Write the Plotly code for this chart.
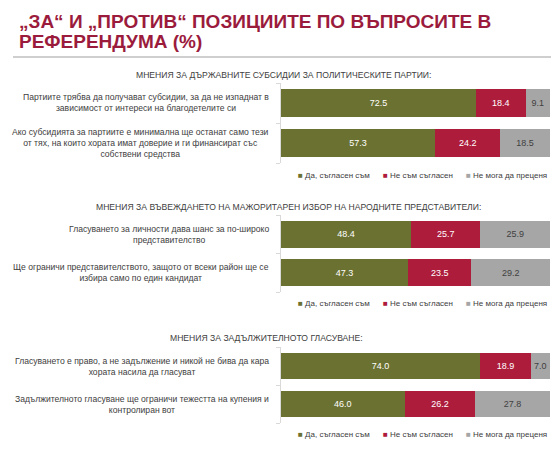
import plotly.graph_objects as go
from plotly.subplots import make_subplots

# Данни
title_lines = ["„ЗА“ И „ПРОТИВ“ ПОЗИЦИИТЕ ПО ВЪПРОСИТЕ В", "РЕФЕРЕНДУМА (%)"]
series = ["Да, съгласен съм", "Не съм съгласен", "Не мога да преценя"]
colors = ["#6b7231", "#ae1c3c", "#a6a6a6"]
text_colors = ["#ffffff", "#ffffff", "#404040"]

headings = [
    "МНЕНИЯ ЗА ДЪРЖАВНИТЕ СУБСИДИИ ЗА ПОЛИТИЧЕСКИТЕ ПАРТИИ:",
    "МНЕНИЯ ЗА ВЪВЕЖДАНЕТО НА МАЖОРИТАРЕН ИЗБОР НА НАРОДНИТЕ ПРЕДСТАВИТЕЛИ:",
    "МНЕНИЯ ЗА ЗАДЪЛЖИТЕЛНОТО ГЛАСУВАНЕ:",
]
questions = [
    ["Партиите трябва да получават субсидии, за да не изпаднат в<br>зависимост от интереси на благодетелите си",
     "Ако субсидията за партиите е минимална ще останат само тези<br>от тях, на които хората имат доверие и ги финансират със<br>собствени средства"],
    ["Гласуването за личности дава шанс за по-широко<br>представителство",
     "Ще ограничи представителството, защото от всеки район ще се<br>избира само по един кандидат"],
    ["Гласуването е право, а не задължение и никой не бива да кара<br>хората насила да гласуват",
     "Задължителното гласуване ще ограничи тежестта на купения и<br>контролиран вот"],
]
agree = [[72.5, 57.3], [48.4, 47.3], [74.0, 46.0]]
disagree = [[18.4, 24.2], [25.7, 23.5], [18.9, 26.2]]
unsure = [[9.1, 18.5], [25.9, 29.2], [7.0, 27.8]]

# страницата отмества фигурата с 8px (margin на body)
OX, OY = 8, 8
W, H = 559 - OX, 465 - OY
FONT = "Liberation Sans, Arial"

# позиции в пиксели на екрана (горе, долу) за всяка секция
sec_px = [(83, 163), (215, 292), (347, 423)]
head_px = [(283, 75), (288, 207), (266, 338)]
legend_py = [175, 303, 434]
legend_px = [296, 381, 464]


def px(x):
    return (x - OX) / W


def py(y):
    return 1 - (y - OY) / H


fig = make_subplots(rows=3, cols=1)

for i in range(3):
    vals = [agree[i], disagree[i], unsure[i]]
    for s in range(3):
        fig.add_trace(go.Bar(
            x=vals[s], y=[0, 1], orientation="h",
            name=series[s], marker=dict(color=colors[s], line=dict(width=0)),
            texttemplate="%{x:.1f}", textposition="inside", insidetextanchor="middle",
            textangle=0, constraintext="none",
            textfont=dict(color=text_colors[s], size=9, family=FONT),
            showlegend=False, hoverinfo="skip",
        ), row=i + 1, col=1)

    ax = "" if i == 0 else str(i + 1)
    top, bot = sec_px[i]
    fig.update_layout(**{
        f"xaxis{ax}": dict(domain=[px(281), px(550)], range=[0, 100], visible=False),
        f"yaxis{ax}": dict(domain=[py(bot), py(top)], range=[1.5, -0.5],
                           tickvals=[-0.5, 0.5, 1.5], ticks="outside", ticklen=4,
                           tickcolor="#d9d9d9", showline=True, linecolor="#d9d9d9",
                           showticklabels=False, showgrid=False, zeroline=False),
    })

    for j in range(2):
        fig.add_annotation(x=px(271), xref="paper", y=j, yref=f"y{ax}",
                           text=questions[i][j], showarrow=False, xanchor="right",
                           yanchor="middle", align="center",
                           font=dict(size=8.6, color="#404040", family=FONT))

    cx, cy = head_px[i]
    fig.add_annotation(x=px(cx), xref="paper", y=py(cy), yref="paper", text=headings[i],
                       showarrow=False, xanchor="center", yanchor="middle",
                       font=dict(size=8.6, color="#404040", family=FONT))

    # легенда
    for s in range(3):
        fig.add_annotation(x=px(legend_px[s]), xref="paper", y=py(legend_py[i]), yref="paper",
                           text=f'<span style="color:{colors[s]}">■</span> {series[s]}',
                           showarrow=False, xanchor="left", yanchor="middle",
                           font=dict(size=8, color="#404040", family=FONT))

# заглавие
for k, ty in enumerate([22, 42]):
    fig.add_annotation(x=px(17), xref="paper", y=py(ty), yref="paper", text=title_lines[k],
                       showarrow=False, xanchor="left", yanchor="middle",
                       font=dict(size=19, color="#9b1b3c", family=FONT, weight="bold"))

fig.add_shape(type="line", xref="paper", yref="paper", x0=px(13), x1=1,
              y0=py(57), y1=py(57), line=dict(color="#cfcfcf", width=2))

fig.update_layout(
    width=W, height=H, margin=dict(l=0, r=0, t=0, b=0),
    barmode="stack", bargap=0.3,
    plot_bgcolor="white", paper_bgcolor="white",
    font=dict(family=FONT, color="#404040"),
)

fig.write_html("out.html")
